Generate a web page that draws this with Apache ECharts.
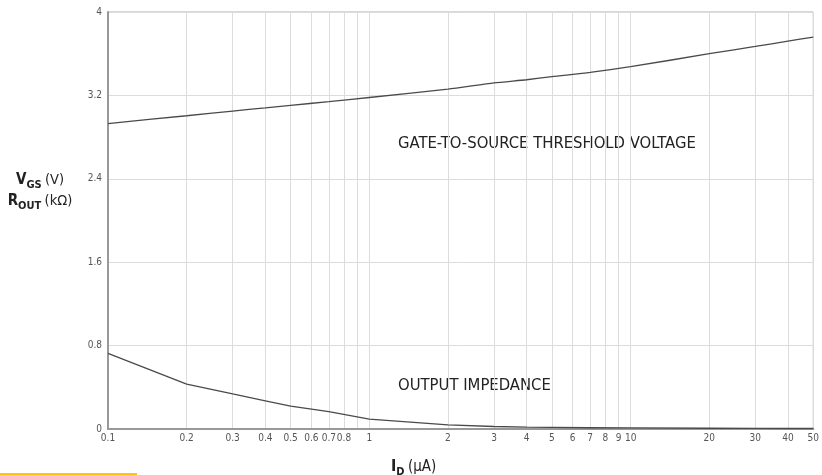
<!DOCTYPE html>
<html>
<head>
<meta charset="utf-8">
<script src="https://cdn.jsdelivr.net/npm/echarts@6/dist/echarts.min.js"></script>
<style>
  html, body { margin: 0; padding: 0; background: #fff; }
  #chart { width: 822px; height: 475px; }
</style>
</head>
<body>
<div id="chart"></div>
<script>
const currents = [0.1, 0.2, 0.3, 0.4, 0.5, 0.7, 1, 2, 3, 4, 5, 7, 10, 20, 30, 40, 50]
const vgs = [2.93, 3.005, 3.05, 3.08, 3.105, 3.14, 3.18, 3.26, 3.32, 3.35, 3.38, 3.42, 3.475, 3.6, 3.67, 3.72, 3.76]
const rout = [0.726, 0.43, 0.336, 0.27, 0.22, 0.166, 0.095, 0.04, 0.024, 0.018, 0.015, 0.012, 0.01, 0.007, 0.006, 0.005, 0.005]

const xTicks = [0.1, 0.2, 0.3, 0.4, 0.5, 0.6, 0.7, 0.8, 0.9, 1, 2, 3, 4, 5, 6, 7, 8, 9, 10, 20, 30, 40, 50]
const xLabels = [0.1, 0.2, 0.3, 0.4, 0.5, 0.6, 0.7, 0.8, 1, 2, 3, 4, 5, 6, 7, 8, 9, 10, 20, 30, 40, 50]

const narrow = '"Liberation Sans Narrow", "DejaVu Sans Condensed", sans-serif'

const chart = echarts.init(document.getElementById('chart'))

// bold letter + bold subscript + plain unit
const nameRich = {
  b: { font: 'bold 15px ' + narrow, fill: '#222', verticalAlign: 'bottom', lineHeight: 21 },
  s: { font: 'bold 11px ' + narrow, fill: '#222', verticalAlign: 'bottom', padding: [0, 0, -3, 0], lineHeight: 21 },
  n: { font: '14.5px ' + narrow, fill: '#222', verticalAlign: 'bottom', lineHeight: 21 }
}

chart.setOption({
  animation: false,
  grid: {
    left: 108, right: 7, top: 12, bottom: 46,
    show: true, borderColor: '#b0b0b0', borderWidth: 1
  },
  xAxis: {
    type: 'log',
    logBase: 10,
    min: 0.1,
    max: 50,
    axisLine: { lineStyle: { color: '#999', width: 2 } },
    axisTick: { show: false, customValues: xTicks },
    axisLabel: {
      customValues: xLabels,
      color: '#555',
      fontSize: 10,
      fontFamily: narrow,
      margin: 4,
      formatter: v => String(+(+v).toPrecision(2))
    },
    splitLine: { show: true, lineStyle: { color: '#dcdcdc', width: 1 } }
  },
  yAxis: {
    type: 'value',
    min: 0,
    max: 4,
    interval: 0.8,
    axisLine: { show: true, lineStyle: { color: '#999', width: 2 } },
    axisTick: { show: false },
    axisLabel: {
      color: '#555',
      fontSize: 10,
      fontFamily: narrow,
      margin: 6,
      formatter: v => String(+v.toFixed(1))
    },
    splitLine: { show: true, lineStyle: { color: '#dcdcdc', width: 1 } }
  },
  series: [
    {
      name: 'VGS',
      type: 'line',
      data: currents.map((c, i) => [c, vgs[i]]),
      smooth: 0.2,
      symbol: 'none',
      lineStyle: { color: '#4a4a4a', width: 1.3 }
    },
    {
      name: 'ROUT',
      type: 'line',
      data: currents.map((c, i) => [c, rout[i]]),
      smooth: false,
      symbol: 'none',
      lineStyle: { color: '#4a4a4a', width: 1.3 }
    }
  ],
  graphic: [
    {
      type: 'text', x: 398, y: 144,
      style: {
        text: 'GATE-TO-SOURCE THRESHOLD VOLTAGE', font: '16.5px ' + narrow,
        fill: '#222', verticalAlign: 'middle'
      }
    },
    {
      type: 'text', x: 398, y: 386,
      style: {
        text: 'OUTPUT IMPEDANCE', font: '16.5px ' + narrow,
        fill: '#222', verticalAlign: 'middle'
      }
    },
    {
      type: 'text', x: 40, y: 167,
      style: {
        text: '{b|V}{s|GS} {n|(V)}\n{b|R}{s|OUT} {n|(kΩ)}',
        align: 'center',
        verticalAlign: 'top',
        lineHeight: 21,
        rich: nameRich
      }
    },
    {
      type: 'text', x: 391, y: 456,
      style: {
        text: '{b|I}{s|D} {n|(μA)}',
        verticalAlign: 'top',
        rich: {
          b: { font: 'bold 16px ' + narrow, fill: '#222', verticalAlign: 'bottom', lineHeight: 19 },
          s: { font: 'bold 11px ' + narrow, fill: '#222', verticalAlign: 'bottom', padding: [0, 0, -3, 0], lineHeight: 19 },
          n: { font: '15px ' + narrow, fill: '#222', verticalAlign: 'bottom', lineHeight: 19 }
        }
      }
    },
    {
      type: 'rect', x: 0, y: 473,
      shape: { width: 137, height: 2 },
      style: { fill: '#ffc20e' }
    }
  ]
})
</script>
</body>
</html>
